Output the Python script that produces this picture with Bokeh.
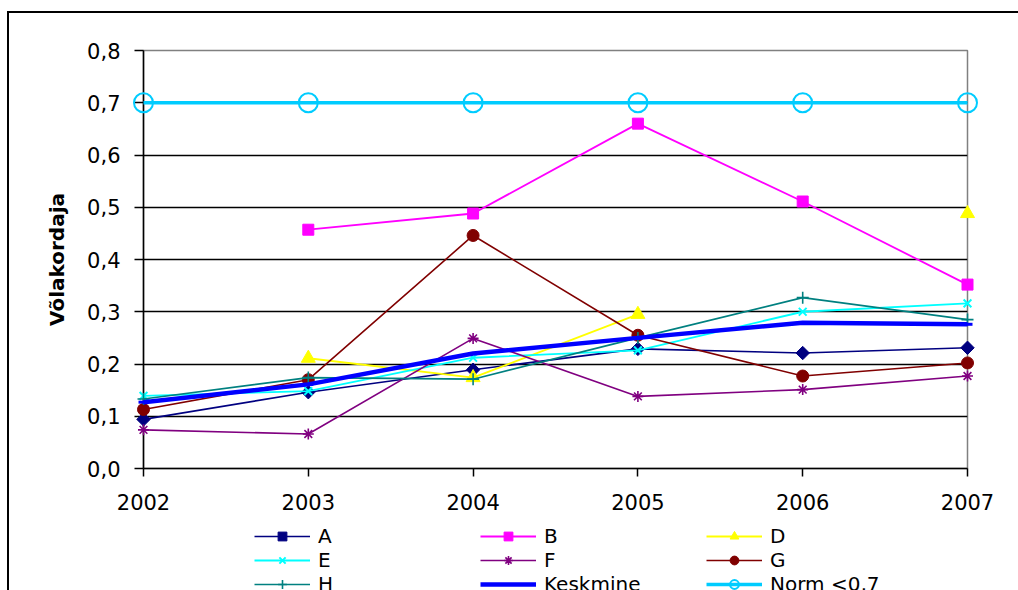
import math
from bokeh.plotting import figure
from bokeh.layouts import column
from bokeh.models import Range1d, FixedTicker, CustomJSTickFormatter, Legend, LegendItem
from bokeh.embed import file_html
from bokeh.resources import INLINE

NAN = float("nan")

years = [2002, 2003, 2004, 2005, 2006, 2007]

a_vals = [0.094, 0.146, 0.189, 0.229, 0.221, 0.231]
b_vals = [NAN, 0.457, 0.488, 0.660, 0.511, 0.352]
d_vals = [NAN, 0.211, 0.174, 0.295, NAN, 0.488]
e_vals = [0.139, 0.148, 0.212, 0.226, 0.300, 0.316]
f_vals = [0.074, 0.066, 0.249, 0.138, 0.151, 0.177]
g_vals = [0.113, 0.170, 0.446, 0.255, 0.177, 0.202]
h_vals = [0.133, 0.174, 0.171, 0.250, 0.327, 0.285]
keskmine_vals = [0.127, 0.161, 0.220, 0.250, 0.279, 0.276]
norm_vals = [0.7, 0.7, 0.7, 0.7, 0.7, 0.7]

y_ticks = [0.0, 0.1, 0.2, 0.3, 0.4, 0.5, 0.6, 0.7, 0.8]
grid_ticks = [0.1, 0.2, 0.3, 0.4, 0.5, 0.6, 0.7]

FONT = "DejaVu Sans"

# main plot area
p = figure(width=1009, height=507, output_backend="svg", toolbar_location=None,
           x_range=Range1d(2002, 2007), y_range=Range1d(0, 0.8),
           min_border_left=134, min_border_right=51,
           min_border_top=37, min_border_bottom=52)

p.background_fill_color = "white"
p.border_fill_color = "white"
p.outline_line_color = "#808080"
p.outline_line_width = 1.5

p.xaxis.ticker = FixedTicker(ticks=years)
p.yaxis.ticker = FixedTicker(ticks=y_ticks)
p.yaxis.formatter = CustomJSTickFormatter(code="return tick.toFixed(1).replace('.', ',');")
p.xaxis.formatter = CustomJSTickFormatter(code="return tick.toFixed(0);")
for ax in (p.xaxis[0], p.yaxis[0]):
    ax.axis_line_color = "black"
    ax.axis_line_width = 1.5
    ax.major_tick_line_color = "black"
    ax.major_tick_line_width = 1.5
    ax.major_tick_in = 0
    ax.minor_tick_line_color = None
    ax.major_label_text_font = FONT
    ax.major_label_text_font_size = "21px"
    ax.major_label_text_color = "black"
p.xaxis.major_tick_out = 8
p.xaxis.major_label_standoff = 17
p.yaxis.major_tick_out = 9
p.yaxis.major_label_standoff = 14
p.yaxis.axis_label = "Võlakordaja"
p.yaxis.axis_label_text_font = FONT
p.yaxis.axis_label_text_font_style = "bold"
p.yaxis.axis_label_text_font_size = "20px"
p.yaxis.axis_label_text_color = "black"
p.yaxis.axis_label_standoff = 15

p.xgrid.grid_line_color = None
p.ygrid.ticker = FixedTicker(ticks=grid_ticks)
p.ygrid.grid_line_color = "black"
p.ygrid.grid_line_width = 1.5

series = [
    ("A", a_vals, "#000080", 1.6, dict(marker="square", size=9.5, angle=math.pi / 4)),
    ("B", b_vals, "#FF00FF", 1.8, dict(marker="square", size=11)),
    ("D", d_vals, "#FFFF00", 1.8, dict(marker="triangle", size=14)),
    ("E", e_vals, "#00FFFF", 1.8, dict(marker="x", size=11, line_width=2)),
    ("F", f_vals, "#800080", 1.6, dict(marker="asterisk", size=11, line_width=1.6)),
    ("G", g_vals, "#800000", 1.6, dict(marker="circle", size=12)),
    ("H", h_vals, "#008080", 1.6, dict(marker="cross", size=12, line_width=1.6)),
    ("Keskmine", keskmine_vals, "#0000FF", 4.5, dict(marker="dash", size=10, line_width=3)),
    ("Norm <0,7", norm_vals, "#00CCFF", 3.5, dict(marker="circle", size=19, line_width=2,
                                                  fill_alpha=0)),
]

# legend strip below the plot; its frame lines up with the plot frame above
lg = figure(width=1009, height=70, output_backend="svg", toolbar_location=None,
            x_range=Range1d(0, 1), y_range=Range1d(0, 1),
            x_axis_type=None, y_axis_type=None,
            min_border_left=134, min_border_right=51, min_border_top=0, min_border_bottom=0)
lg.outline_line_color = None
lg.grid.grid_line_color = None
lg.background_fill_color = "white"
lg.border_fill_color = "white"

items = []
for name, vals, color, lw, mk in series:
    opts = dict(mk)
    opts.setdefault("fill_color", color)
    p.line(years, vals, line_color=color, line_width=lw, level="overlay")
    p.scatter(years, vals, line_color=color, level="overlay", **opts)
    # key renderers sit outside the strip's visible range; only their legend swatch shows
    key_line = lg.line([-5, -4], [-5, -5], line_color=color, line_width=lw)
    key_mark = lg.scatter([-5], [-5], line_color=color, **opts)
    items.append(LegendItem(label=name, renderers=[key_line, key_mark]))

legend = Legend(items=items, orientation="horizontal", ncols=3,
                location=(111, -5.5), padding=0, margin=0, spacing=0,
                glyph_width=56, glyph_height=22, label_height=22,
                label_width=162, label_standoff=8,
                label_text_font=FONT, label_text_font_size="20px",
                label_text_color="black",
                border_line_color=None, background_fill_alpha=0)
lg.add_layout(legend)

layout = column(p, lg, spacing=0)
layout.styles = {"margin-left": "7px", "margin-top": "11px",
                 "border-left": "2px solid black", "border-top": "2px solid black"}

open("out.html", "w").write(file_html(layout, INLINE))
